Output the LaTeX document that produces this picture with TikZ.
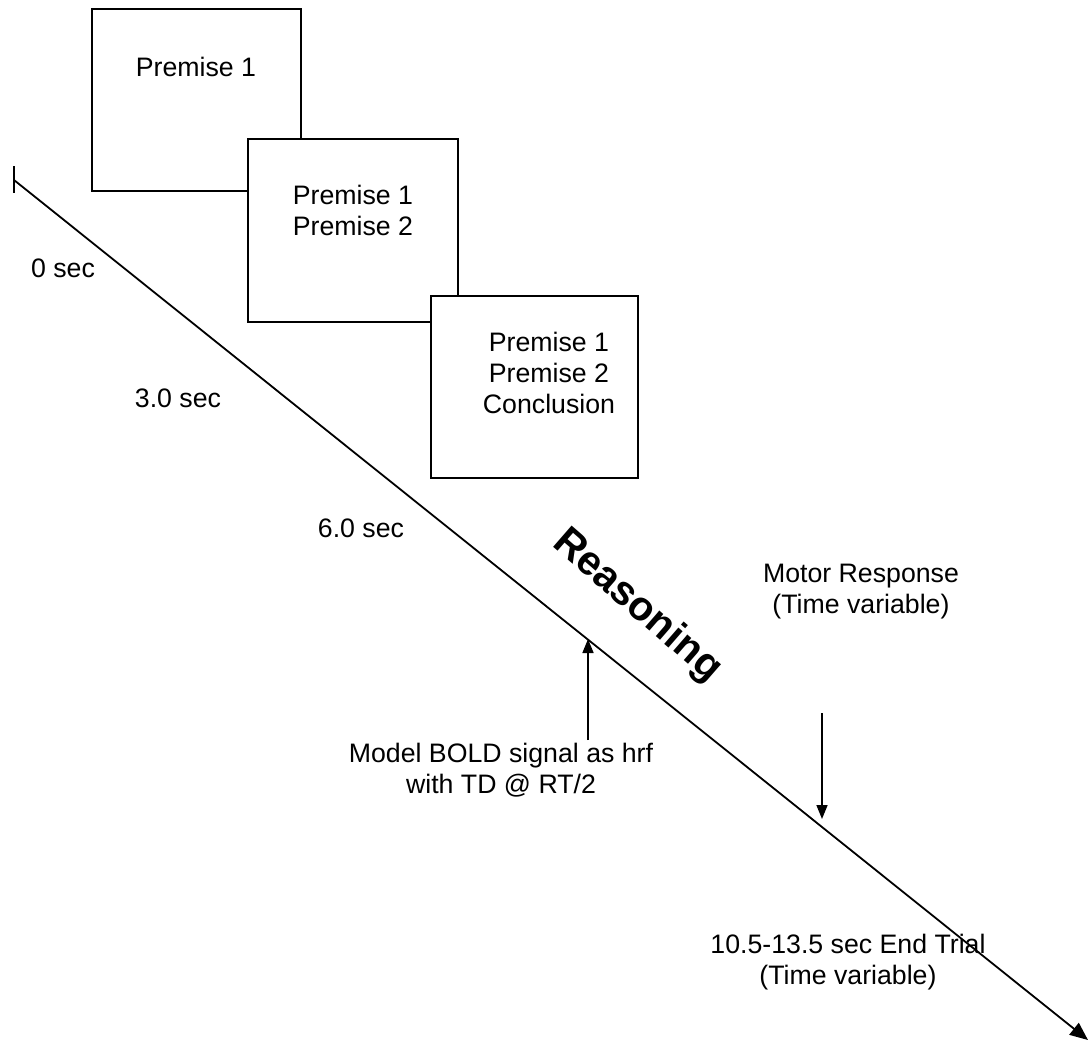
\documentclass[tikz,border=0pt]{standalone}
\usepackage{fontspec}
\setmainfont{Liberation Sans}
\usetikzlibrary{arrows.meta}
\begin{document}
\begin{tikzpicture}[x=1pt,y=-1pt,
  screen/.style={draw=black,line width=1.4pt,fill=white,minimum width=#1,inner sep=0pt},
  lbl/.style={align=center,inner sep=0pt,font=\fontsize{26.7}{31}\selectfont},
  ptr/.style={line width=1.6pt,-{Triangle[length=14pt,width=11pt]}}]
\useasboundingbox (0,0) rectangle (1089,1042);
% boxes
\node[screen=209pt,minimum height=182pt] (b1) at (196.5,100) {};
\node[screen=210pt,minimum height=183pt] (b2) at (353,230.5) {};
\node[screen=207pt,minimum height=182pt] (b3) at (534.5,387) {};
\node[lbl] (t1) at (196,67) {Premise 1};
\node[lbl] (t2) at (353,210) {Premise 1\\Premise 2};
\node[lbl] (t3) at (549,373) {Premise 1\\Premise 2\\Conclusion};
% time line
\coordinate (s) at (14,180);
\coordinate (e) at (1088,1040);
\coordinate (tk1) at (14,166);
\coordinate (tk2) at (14,193);
\draw[line width=2.6pt] (tk1) -- (tk2);
\draw[line width=1.8pt,-{Triangle[length=18pt,width=15pt]}] (s) -- (e);
% time labels
\node[lbl] (l0) at (63,268) {0 sec};
\node[lbl] (l3) at (178,398) {3.0 sec};
\node[lbl] (l6) at (361,528) {6.0 sec};
\node[lbl] (mr) at (861,592) {Motor Response\\(Time variable)};
\node[lbl] (mb) at (501,770) {Model BOLD signal as hrf\\with TD @ RT/2};
\node[lbl] (et) at (848,962) {10.5-13.5 sec End Trial\\(Time variable)};
\node[rotate=-41,inner sep=0pt,font=\fontsize{41}{41}\bfseries\selectfont] (rs) at (637,606) {Reasoning};
% arrows
\coordinate (ua1) at (588,740);
\coordinate (ua2) at (588,639);
\coordinate (da1) at (822,713);
\coordinate (da2) at (822,819);
\draw[ptr] (ua1) -- (ua2);
\draw[ptr] (da1) -- (da2);
\end{tikzpicture}
\end{document}
